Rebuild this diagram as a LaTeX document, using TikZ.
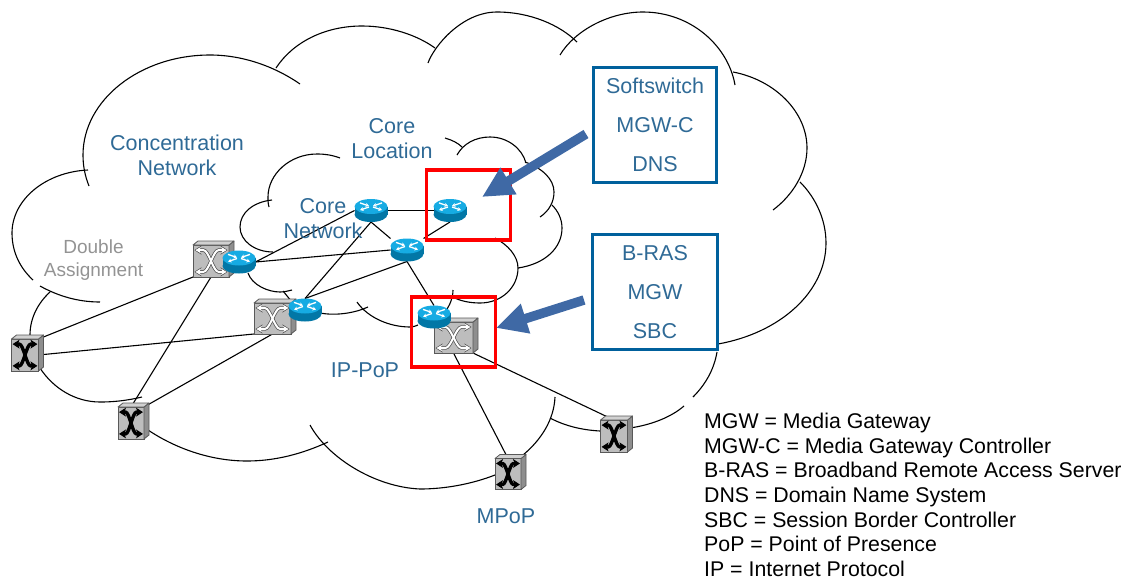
\documentclass[tikz,border=0pt]{standalone}
\usepackage{fontspec}
\setmainfont{Liberation Sans}
\usetikzlibrary{arrows.meta,backgrounds}

\definecolor{labelblue}{HTML}{2F6A96}
\definecolor{boxblue}{HTML}{00609C}
\definecolor{arrowblue}{HTML}{3F69A5}
\definecolor{routertop}{HTML}{16ABE3}
\definecolor{routerside}{HTML}{0277A6}
\definecolor{switchfront}{HTML}{BDBDBD}
\definecolor{switchside}{HTML}{8E8E8E}

\tikzstyle{cloudline} = [line width=1.1pt]
\tikzstyle{link} = [line width=1.1pt]
\tikzstyle{label} = [text=labelblue, font=\fontsize{21.5}{25}\selectfont, align=center, inner sep=0pt]
\tikzstyle{graylabel} = [text=gray!85, font=\fontsize{19}{23}\selectfont, align=center, inner sep=0pt]
\tikzstyle{legend} = [font=\fontsize{21.3}{24.67}\selectfont, align=left, inner sep=0pt, anchor=north west]
\tikzstyle{infobox} = [draw=boxblue, line width=3.5pt, rectangle, text=labelblue, align=center, inner sep=0pt, font=\fontsize{21.5}{39}\selectfont]
\tikzstyle{redbox} = [draw=red, line width=3.5pt, rectangle, inner sep=0pt]
\tikzstyle{bigarrow} = [draw=arrowblue, line width=9.5pt, -{Triangle[length=31pt,width=29pt]}]
\tikzstyle{routerbox} = [rectangle, minimum width=33pt, minimum height=23pt, inner sep=0pt, outer sep=0pt]
\tikzstyle{routermark} = [white, line width=1.3pt, -{Stealth[length=3.5pt,width=4pt]}]
\tikzstyle{switchbox} = [rectangle, draw=black!65, fill=switchfront, line width=.8pt, inner sep=0pt, outer sep=0pt]
\tikzstyle{switchface} = [draw=black!65, fill=switchside, line width=.8pt, line join=round]

\newcommand{\routernode}[3]{
  \node[routerbox] (#1) at (#2,#3) {};
  \fill[routerside] (#2-16.5,#3-4) rectangle (#2+16.5,#3+4);
  \fill[routerside] (#2,#3+4) ellipse [x radius=16.5, y radius=7.5];
  \fill[routertop] (#2,#3-4) ellipse [x radius=16.5, y radius=7.5];
  \begin{scope}[shift={(#2,#3-4)}]
    \foreach \sx in {-1,1} {
      \draw[routermark] (\sx*11,-3.6) -- (\sx*2,-.5);
      \draw[routermark] (\sx*2,.5) -- (\sx*11,3.6);
    }
  \end{scope}
}

\newcommand{\switchnode}[6]{
  \node[switchbox, minimum width=#4pt, minimum height=#5pt] (#1) at (#2,#3) {};
  \draw[switchface] (#1.north east) -- ++(5,-4) -- ++(0,#5) -- (#1.south east) -- cycle;
  \draw[switchface, fill=switchfront!70] (#1.north west) -- ++(5,-4) -- ++(#4,0) -- (#1.north east) -- cycle;
  \begin{scope}[shift={(#2,#3)}, xscale=#4/2, yscale=#5/2]
    \foreach \sy in {-1,1}
      \draw[black!70!#6, line width=3.4pt, {Stealth[length=7pt,width=9pt]}-{Stealth[length=7pt,width=9pt]}]
        (-.92,\sy*.68) -- (-.42,\sy*.68) .. controls (-.12,\sy*.68) and (.12,-\sy*.68) .. (.42,-\sy*.68) -- (.92,-\sy*.68);
    \foreach \sy in {-1,1}
      \draw[#6, line width=2pt, {Stealth[length=5.5pt,width=6.5pt]}-{Stealth[length=5.5pt,width=6.5pt]}, shorten <=1pt, shorten >=1pt]
        (-.92,\sy*.68) -- (-.42,\sy*.68) .. controls (-.12,\sy*.68) and (.12,-\sy*.68) .. (.42,-\sy*.68) -- (.92,-\sy*.68);
  \end{scope}
}

\begin{document}
\begin{tikzpicture}
    [x=1pt, y=-1pt]
  \useasboundingbox (0,0) rectangle (1127,579);

  \switchnode{swa}{211}{261}{36}{32}{white}
  \switchnode{swb}{272.5}{318.5}{37}{31}{white}
  \switchnode{swc}{453.5}{337.5}{39}{31}{white}
  \switchnode{swl}{25}{355}{27}{32}{black}
  \switchnode{swm}{131}{423}{26}{32}{black}
  \switchnode{swp}{508}{474}{26}{31}{black}
  \switchnode{swr}{614}{436}{27}{32}{black}

  \routernode{rta}{371}{210.5}
  \routernode{rtb}{450}{210.5}
  \routernode{rtc}{407}{250}
  \routernode{rtd}{239}{262}
  \routernode{rte}{305}{310}
  \routernode{rtf}{434}{317}

  \begin{scope}[on background layer]
    \draw[link] (swl.north east) -- (swa.south west);
    \draw[link] (swl.east) -- (swb.south west);
    \draw[link] (swm.north) -- (swa.south);
    \draw[link] (swm.north east) -- (swb.south);
    \draw[link] (rtd.east) -- (rta.west);
    \draw[link] (rtd.east) -- (rtc.west);
    \draw[link] (rte.north) -- (rta.south);
    \draw[link] (rte.north) -- (rtc.south);
    \draw[link] (rta.east) -- (rtb.west);
    \draw[link] (rta.south) -- (rtc.north west);
    \draw[link] (rtc.north east) -- (rtb.south);
    \draw[link] (rtc.south) -- (rtf.north);
    \draw[link] (swc.south) -- (swp.north);
    \draw[link] (swc.south east) -- (swr.north);

    \draw[cloudline] (33,280) .. controls (20,268) and (12,252) .. (12,233) .. controls (12,200) and (45,172) .. (88,170);
    \draw[cloudline] (89,186) .. controls (85,176) and (83,166) .. (83,155) .. controls (83,100) and (140,55) .. (210,55) .. controls (245,55) and (277,68) .. (300,84);
    \draw[cloudline] (276,68) .. controls (293,42) and (325,26) .. (362,26) .. controls (390,26) and (417,35) .. (435,48);
    \draw[cloudline] (428,63) .. controls (434,46) and (462,12) .. (497,12) .. controls (530,12) and (560,25) .. (577,42);
    \draw[cloudline] (560,55) .. controls (575,30) and (610,12) .. (643,12) .. controls (690,12) and (728,45) .. (735,85);
    \draw[cloudline] (733,72) .. controls (775,80) and (807,112) .. (807,148) .. controls (807,172) and (793,195) .. (773,210);
    \draw[cloudline] (800,182) .. controls (816,198) and (826,220) .. (826,243) .. controls (826,292) and (780,333) .. (718,344);
    \draw[cloudline] (717,352) .. controls (714,370) and (705,385) .. (693,397);
    \draw[cloudline] (684,406) .. controls (670,418) and (650,425) .. (630,428);
    \draw[cloudline] (550,418) .. controls (565,426) and (582,430) .. (600,431);
    \draw[cloudline] (555,397) .. controls (554,420) and (541,440) .. (523,455);
    \draw[cloudline] (495,475) .. controls (472,484) and (445,489) .. (420,489) .. controls (375,487) and (328,458) .. (310,425);
    \draw[cloudline] (328,442) .. controls (302,454) and (275,461) .. (247,461) .. controls (210,461) and (175,448) .. (148,430);
    \draw[cloudline] (142,397) .. controls (125,401) and (112,402) .. (100,402) .. controls (75,402) and (53,388) .. (40,368);
    \draw[cloudline] (30,335) .. controls (30,318) and (38,303) .. (50,292);
    \draw[cloudline] (40,286) .. controls (58,296) and (78,302) .. (100,302);

    \draw[cloudline] (340,158) .. controls (332,155) and (325,154) .. (317,154) .. controls (290,154) and (268,174) .. (268,197) .. controls (268,200) and (268,204) .. (269,207);
    \draw[cloudline] (272,200) .. controls (253,202) and (240,213) .. (240,227) .. controls (240,241) and (255,252) .. (273,252);
    \draw[cloudline] (248,273) .. controls (252,285) and (268,292) .. (280,292) .. controls (284,292) and (288,291) .. (292,290);
    \draw[cloudline] (283,291) -- (292,302);
    \draw[cloudline] (320,313) .. controls (336,316) and (355,313) .. (368,307);
    \draw[cloudline] (357,302) .. controls (368,318) and (390,327) .. (410,327) .. controls (413,327) and (416,326) .. (418,325);
    \draw[cloudline] (453,290) .. controls (453,298) and (450,305) .. (445,312);
    \draw[cloudline] (453,297) .. controls (460,301) and (470,303) .. (480,303) .. controls (502,303) and (518,287) .. (518,268) .. controls (518,256) and (508,245) .. (495,238);
    \draw[cloudline] (518,268) .. controls (545,264) and (562,248) .. (562,228) .. controls (562,219) and (558,211) .. (552,205);
    \draw[cloudline] (540,217) .. controls (549,211) and (554,202) .. (554,192) .. controls (554,179) and (542,168) .. (525,162);
    \draw[cloudline] (526,163) .. controls (522,148) and (507,137) .. (490,137) .. controls (475,137) and (463,144) .. (457,155);
    \draw[cloudline] (462,147) .. controls (458,143) and (452,140) .. (445,138);
  \end{scope}

  \node[label] (conc) at (177,155.5) {Concentration\\Network};
  \node[label] (loc) at (392,138.5) {Core\\Location};
  \node[label] (core) at (323,218.5) {Core\\Network};
  \node[label] (ippop) at (365,370) {IP-PoP};
  \node[label] (mpop) at (506,516) {MPoP};
  \node[graylabel] (dbl) at (93.5,260) {Double\\Assignment};

  \node[redbox, minimum width=84pt, minimum height=70pt] (redtop) at (468.5,205) {};
  \node[redbox, minimum width=84pt, minimum height=70pt] (redlow) at (453.5,332) {};

  \node[infobox, minimum width=123pt, minimum height=115pt] (softbox) at (655,125) {Softswitch\\MGW-C\\DNS};
  \node[infobox, minimum width=125pt, minimum height=115pt] (brasbox) at (655,292) {B-RAS\\MGW\\SBC};

  \coordinate (softtail) at (586,134);
  \coordinate (softtip) at (482,197);
  \coordinate (bratail) at (584,300);
  \coordinate (bratip) at (496,328);
  \draw[bigarrow] (softtail) -- (softtip);
  \draw[bigarrow] (bratail) -- (bratip);

  \node[legend] (glossary) at (704,413) {MGW = Media Gateway\\MGW-C = Media Gateway Controller\\B-RAS = Broadband Remote Access Server\\DNS = Domain Name System\\SBC = Session Border Controller\\PoP = Point of Presence\\IP = Internet Protocol};
\end{tikzpicture}
\end{document}
